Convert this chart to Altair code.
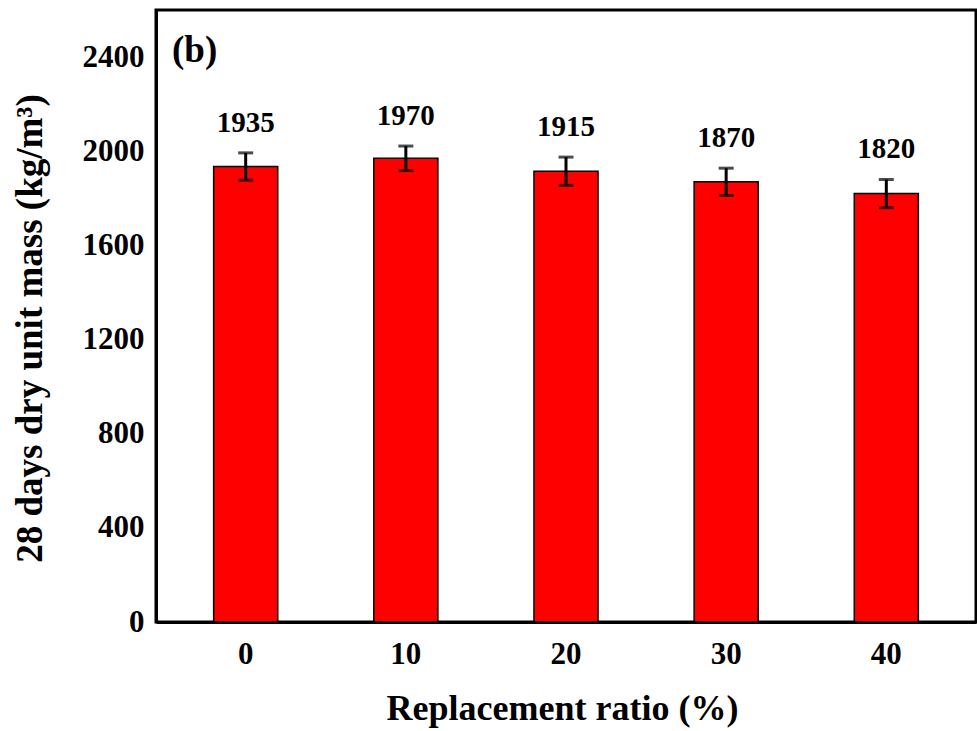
import altair as alt
import pandas as pd

ratios = ["0", "10", "20", "30", "40"]
values = [1935, 1970, 1915, 1870, 1820]
errors = [58, 52, 60, 58, 60]

df = pd.DataFrame({"ratio": ratios, "value": values, "err": errors})

FONT = "Liberation Serif"

x_enc = alt.X(
    "ratio:N",
    sort=ratios,
    scale=alt.Scale(paddingInner=0.6, paddingOuter=0.36),
    axis=alt.Axis(
        title="Replacement ratio (%)",
        labelAngle=0,
        labelFont=FONT, labelFontSize=31, labelFontWeight="bold", labelColor="black",
        labelPadding=17, ticks=False,
        domainColor="black", domainWidth=3,
        titleFont=FONT, titleFontSize=36, titleFontWeight="bold", titleColor="black",
        titleX=406, titleY=86, titleBaseline="middle", titleAlign="center",
    ),
)

y_scale = alt.Scale(domain=[0, 2600], nice=False)

bars = alt.Chart(df).mark_bar(color="#ff0000", stroke="black", strokeWidth=1.5).encode(
    x=x_enc,
    y=alt.Y(
        "value:Q",
        scale=y_scale,
        axis=alt.Axis(
            title="28 days dry unit mass (kg/m³)",
            values=[0, 400, 800, 1200, 1600, 2000, 2400],
            format="d",
            labelFont=FONT, labelFontSize=31, labelFontWeight="bold", labelColor="black",
            labelPadding=12, ticks=False, grid=False,
            domainColor="black", domainWidth=3,
            titleFont=FONT, titleFontSize=37, titleFontWeight="bold", titleColor="black",
            titleX=-126, titleY=318, titleAngle=-90, titleBaseline="middle", titleAlign="center",
        ),
    ),
)

base = alt.Chart(df).transform_calculate(
    lo="datum.value - datum.err", hi="datum.value + datum.err"
)

rule = base.mark_rule(color="black", strokeWidth=3).encode(
    x=alt.X("ratio:N", sort=ratios),
    y=alt.Y("lo:Q", scale=y_scale),
    y2="hi:Q",
)
cap_hi = base.mark_tick(color="black", thickness=3, size=15, orient="horizontal").encode(
    x=alt.X("ratio:N", sort=ratios),
    y=alt.Y("hi:Q", scale=y_scale),
)
cap_lo = base.mark_tick(color="black", thickness=3, size=15, orient="horizontal").encode(
    x=alt.X("ratio:N", sort=ratios),
    y=alt.Y("lo:Q", scale=y_scale),
)
labels = base.mark_text(
    font=FONT, fontSize=29, fontWeight="bold", color="black", baseline="alphabetic", dy=-21
).encode(
    x=alt.X("ratio:N", sort=ratios),
    y=alt.Y("hi:Q", scale=y_scale),
    text=alt.Text("value:Q", format="d"),
)

panel = alt.Chart(pd.DataFrame({"t": ["(b)"]})).mark_text(
    font=FONT, fontSize=37, fontWeight="bold", color="black", align="left", baseline="middle"
).encode(x=alt.value(16), y=alt.value(41), text="t:N")

chart = alt.layer(bars, rule, cap_hi, cap_lo, labels, panel).properties(
    width=820,
    height=612,
    padding={"left": 156, "top": 10, "right": 1, "bottom": 109},
    autosize=alt.AutoSizeParams(type="none"),
    background="white",
).configure_view(stroke="black", strokeWidth=3)

chart.save("out.html", embed_options={"renderer": "svg", "actions": False})
